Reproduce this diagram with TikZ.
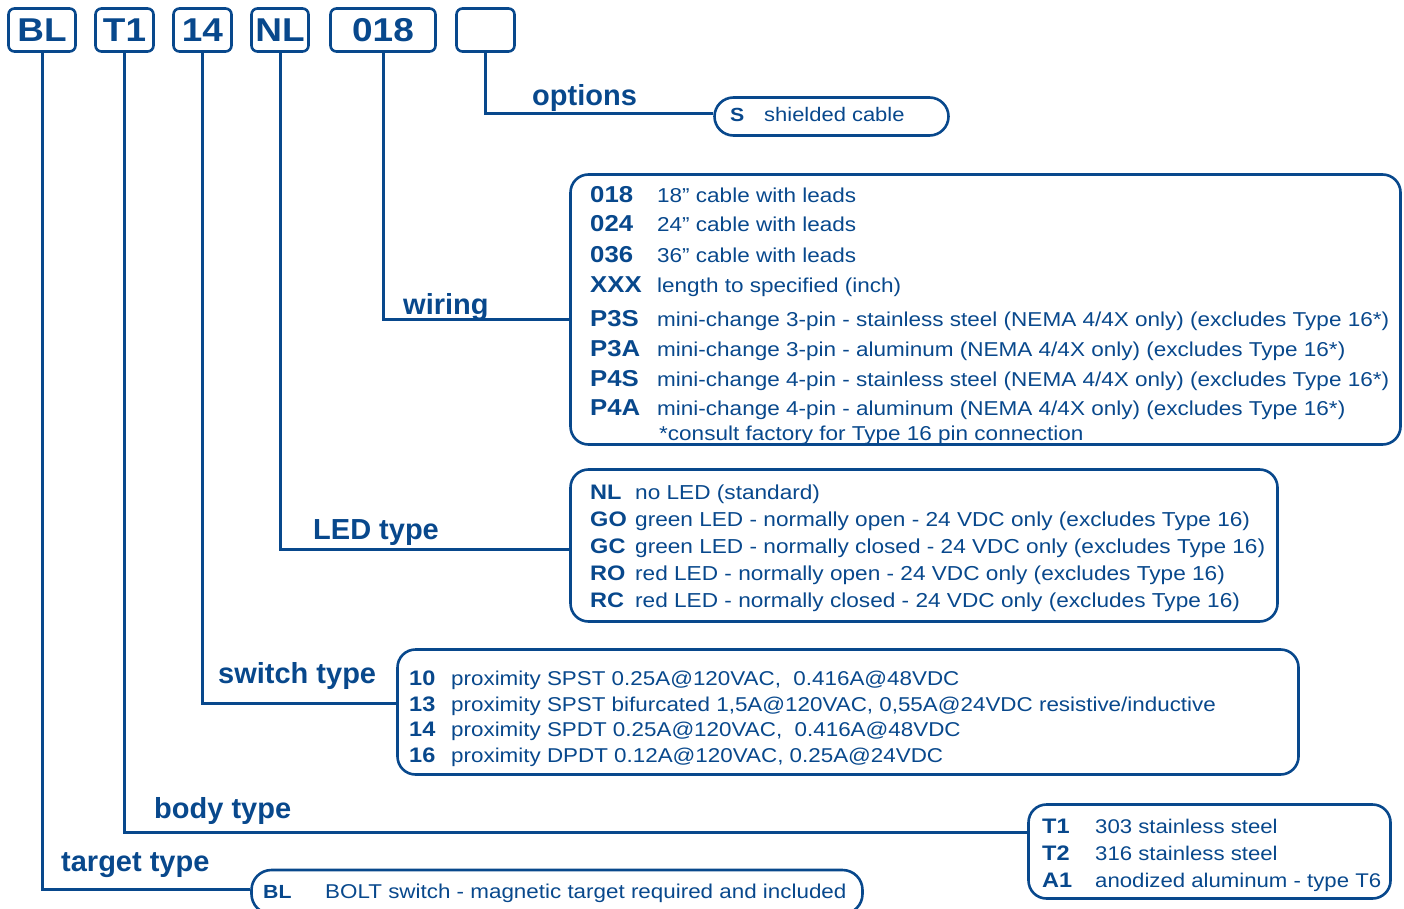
\documentclass[tikz,border=0pt]{standalone}
\usepackage{fontspec}
\setmainfont{Liberation Sans}
\newfontfamily\widefont[FakeStretch=1.12]{Liberation Sans}
\definecolor{bluecol}{RGB}{8,72,140}
\tikzset{
  lead/.style={draw=bluecol,line width=3pt},
  codebox/.style={draw=bluecol,line width=2.6pt,rounded corners=6pt,minimum height=43pt,inner sep=0pt,text=bluecol,font=\widefont\bfseries\fontsize{33}{36}\selectfont},
  panel/.style={draw=bluecol,line width=2.6pt,rounded corners=18pt,inner sep=0pt},
  lbl/.style={anchor=base west,inner sep=0pt,text=bluecol,font=\bfseries\fontsize{29}{32}\selectfont},
  keycode/.style={anchor=base west,inner sep=0pt,text=bluecol,font=\widefont\bfseries\fontsize{#1}{#1}\selectfont},
  keycode/.default=23,
  keytext/.style={anchor=base west,inner sep=0pt,text=bluecol,font=\widefont\fontsize{#1}{#1}\selectfont},
  keytext/.default=20.1,
}
\begin{document}
\begin{tikzpicture}[x=1pt,y=-1pt]
\useasboundingbox (0,0) rectangle (1404,909);
%% order code boxes
\node[codebox,minimum width=67pt] (tBL) at (42,30) {BL};
\node[codebox,minimum width=58pt] (tT1) at (124.5,30) {T1};
\node[codebox,minimum width=58pt] (t14) at (202.5,30) {14};
\node[codebox,minimum width=57pt] (tNL) at (280,30) {NL};
\node[codebox,minimum width=105pt] (t018) at (383,30) {018};
\node[codebox,minimum width=58pt] (tOpt) at (485.5,30) {};
%% option panels
\node[panel,rounded corners=19pt,minimum width=234pt,minimum height=38pt] (optbox) at (831.5,116.5) {};
\node[panel,minimum width=830pt,minimum height=270pt] (wirebox) at (985.5,309.5) {};
\node[panel,minimum width=707pt,minimum height=152pt] (ledbox) at (924,545.5) {};
\node[panel,minimum width=901pt,minimum height=125pt] (swbox) at (848,712) {};
\node[panel,minimum width=362pt,minimum height=94pt] (bodybox) at (1209.5,851.5) {};
\node[panel,rounded corners=20pt,minimum width=611pt,minimum height=44pt] (tgtbox) at (557,892) {};
%% connectors
\draw[lead] (tOpt.south) |- ([yshift=2.5pt]optbox.west);
\draw[lead] (t018.south) |- ([yshift=-9.5pt]wirebox.west);
\draw[lead] (tNL.south) |- ([yshift=-3.5pt]ledbox.west);
\draw[lead] (t14.south) |- ([yshift=9pt]swbox.west);
\draw[lead] (tT1.south) |- ([yshift=19.5pt]bodybox.west);
\draw[lead] (tBL.south) |- ([yshift=3pt]tgtbox.west);
%% labels
\node[lbl] (lOpt) at (532,106) {options};
\node[lbl] (lWire) at (403,314) {wiring};
\node[lbl] (lLed) at (313,539) {LED type};
\node[lbl] (lSw) at (218,683) {switch type};
\node[lbl] (lBody) at (154,818) {body type};
\node[lbl] (lTgt) at (61,871) {target type};
%% options
\node[keycode=19] (oS) at (730,122) {S};
\node[keytext=19.6] (oSd) at (764,122) {shielded cable};
%% wiring
\node[keycode] (w018) at (590,203) {018};
\node[keytext] (w018d) at (657,203) {18” cable with leads};
\node[keycode] (w024) at (590,232) {024};
\node[keytext] (w024d) at (657,232) {24” cable with leads};
\node[keycode] (w036) at (590,262) {036};
\node[keytext] (w036d) at (657,262) {36” cable with leads};
\node[keycode] (wXXX) at (590,292) {XXX};
\node[keytext] (wXXXd) at (657,292) {length to specified (inch)};
\node[keycode] (wP3S) at (590,326) {P3S};
\node[keytext] (wP3Sd) at (657,326) {mini-change 3-pin - stainless steel (NEMA 4/4X only) (excludes Type 16*)};
\node[keycode] (wP3A) at (590,356) {P3A};
\node[keytext] (wP3Ad) at (657,356) {mini-change 3-pin - aluminum (NEMA 4/4X only) (excludes Type 16*)};
\node[keycode] (wP4S) at (590,386) {P4S};
\node[keytext] (wP4Sd) at (657,386) {mini-change 4-pin - stainless steel (NEMA 4/4X only) (excludes Type 16*)};
\node[keycode] (wP4A) at (590,415) {P4A};
\node[keytext] (wP4Ad) at (657,415) {mini-change 4-pin - aluminum (NEMA 4/4X only) (excludes Type 16*)};
\node[keytext] (wnote) at (659,440) {*consult factory for Type 16 pin connection};
%% LED type
\node[keycode=21] (lNL) at (590,499) {NL};
\node[keytext=20.2] (lNLd) at (635,499) {no LED (standard)};
\node[keycode=21] (lGO) at (590,526) {GO};
\node[keytext=20.2] (lGOd) at (635,526) {green LED - normally open - 24 VDC only (excludes Type 16)};
\node[keycode=21] (lGC) at (590,553) {GC};
\node[keytext=20.2] (lGCd) at (635,553) {green LED - normally closed - 24 VDC only (excludes Type 16)};
\node[keycode=21] (lRO) at (590,580) {RO};
\node[keytext=20.2] (lROd) at (635,580) {red LED - normally open - 24 VDC only (excludes Type 16)};
\node[keycode=21] (lRC) at (590,607) {RC};
\node[keytext=20.2] (lRCd) at (635,607) {red LED - normally closed - 24 VDC only (excludes Type 16)};
%% switch type
\node[keycode=21] (s10) at (409,685) {10};
\node[keytext=20] (s10d) at (451,685) {proximity SPST 0.25A@120VAC,\ \ 0.416A@48VDC};
\node[keycode=21] (s13) at (409,711) {13};
\node[keytext=20] (s13d) at (451,711) {proximity SPST bifurcated 1,5A@120VAC, 0,55A@24VDC resistive/inductive};
\node[keycode=21] (s14) at (409,736) {14};
\node[keytext=20] (s14d) at (451,736) {proximity SPDT 0.25A@120VAC,\ \ 0.416A@48VDC};
\node[keycode=21] (s16) at (409,762) {16};
\node[keytext=20] (s16d) at (451,762) {proximity DPDT 0.12A@120VAC, 0.25A@24VDC};
%% body type
\node[keycode=21] (bT1) at (1042,833) {T1};
\node[keytext=19.8] (bT1d) at (1095,833) {303 stainless steel};
\node[keycode=21] (bT2) at (1042,860) {T2};
\node[keytext=19.8] (bT2d) at (1095,860) {316 stainless steel};
\node[keycode=21] (bA1) at (1042,887) {A1};
\node[keytext=19.8] (bA1d) at (1095,887) {anodized aluminum - type T6};
%% target type
\node[keycode=19] (gBL) at (263,898) {BL};
\node[keytext=20] (gBLd) at (325,898) {BOLT switch - magnetic target required and included};
%
\end{tikzpicture}
\end{document}
